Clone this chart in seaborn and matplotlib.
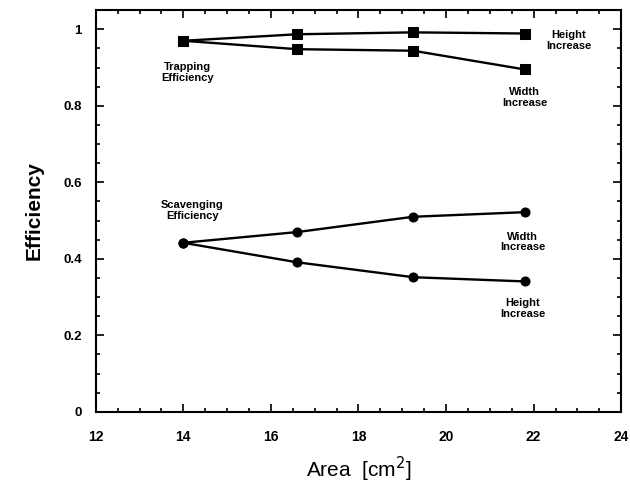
import matplotlib
matplotlib.use("Agg")
import matplotlib.pyplot as plt
import seaborn as sns
import pandas as pd
from matplotlib.ticker import MultipleLocator

sns.set_style("ticks")
plt.rcParams['font.family'] = ['Liberation Sans', 'DejaVu Sans']
plt.rcParams['text.color'] = 'black'
plt.rcParams['axes.labelcolor'] = 'black'
plt.rcParams['xtick.color'] = 'black'
plt.rcParams['ytick.color'] = 'black'

area = [14.0, 16.6, 19.25, 21.8]
trap_height = [0.97, 0.987, 0.992, 0.989]
trap_width = [0.97, 0.948, 0.944, 0.895]
scav_width = [0.442, 0.470, 0.510, 0.522]
scav_height = [0.442, 0.391, 0.352, 0.341]

x_ticks = [12, 14, 16, 18, 20, 22, 24]
y_ticks = [0, 0.2, 0.4, 0.6, 0.8, 1.0]
y_tick_labels = ["0", "0.2", "0.4", "0.6", "0.8", "1"]

annotations = [
    ("Trapping\nEfficiency", 14.1, 0.888),
    ("Height\nIncrease", 22.8, 0.971),
    ("Width\nIncrease", 21.8, 0.822),
    ("Scavenging\nEfficiency", 14.2, 0.527),
    ("Width\nIncrease", 21.75, 0.444),
    ("Height\nIncrease", 21.75, 0.271),
]

fig = plt.figure(figsize=(6.3, 4.84), dpi=100)
ax = fig.add_axes([0.152, 0.149, 0.834, 0.830])

series = [
    (trap_height, "s", 6.5),
    (trap_width, "s", 6.5),
    (scav_width, "o", 6.5),
    (scav_height, "o", 6.5),
]
for vals, mk, ms in series:
    df = pd.DataFrame({"Area": area, "Eff": vals})
    sns.lineplot(data=df, x="Area", y="Eff", ax=ax, color="black",
                 linewidth=1.7, marker=mk, markersize=ms,
                 markeredgecolor="black", markerfacecolor="black")

for txt, xx, yy in annotations:
    ax.text(xx, yy, txt, ha="center", va="center", fontsize=8,
            fontweight="bold", linespacing=1.1, color="black")

ax.set_xlim(12, 24)
ax.set_ylim(0, 1.05)
ax.set_xticks(x_ticks)
ax.set_xticklabels([str(t) for t in x_ticks], fontsize=10, fontweight="bold")
ax.set_yticks(y_ticks)
ax.set_yticklabels(y_tick_labels, fontsize=9.5, fontweight="bold")
ax.xaxis.set_minor_locator(MultipleLocator(0.5))
ax.yaxis.set_minor_locator(MultipleLocator(0.05))
ax.tick_params(which="both", direction="in", top=True, right=True,
               color="black", width=1.2)
ax.tick_params(which="major", length=6)
ax.tick_params(which="minor", length=3)
ax.tick_params(axis="x", which="major", pad=13)
ax.tick_params(axis="y", which="major", pad=10)
for sp in ax.spines.values():
    sp.set_linewidth(1.5)
    sp.set_color("black")

ax.set_xlabel("Area  [cm$^2$]", fontsize=15, labelpad=8, color="black")
ax.set_ylabel("Efficiency", fontsize=15, fontweight="bold", labelpad=14,
              color="black")

fig.savefig("out.png", dpi=100)
